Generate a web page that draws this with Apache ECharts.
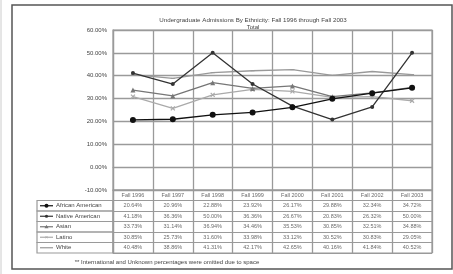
<!DOCTYPE html>
<html><head><meta charset="utf-8">
<script src="https://cdn.jsdelivr.net/npm/echarts@6/dist/echarts.min.js"></script>
<style>html,body{margin:0;padding:0;background:#fff}#c{width:453px;height:274px}</style>
</head><body><div id="c"></div>
<script>
const categories = ['Fall 1996','Fall 1997','Fall 1998','Fall 1999','Fall 2000','Fall 2001','Fall 2002','Fall 2003'];
const seriesNames = ['African American','Native American','Asian','Latino','White'];
const africanAmerican = [20.64, 20.96, 22.88, 23.92, 26.17, 29.88, 32.34, 34.72];
const nativeAmerican  = [41.18, 36.36, 50.00, 36.36, 26.67, 20.83, 26.32, 50.00];
const asian           = [33.73, 31.14, 36.94, 34.46, 35.53, 30.85, 32.51, 34.88];
const latino          = [30.85, 25.73, 31.60, 33.98, 33.12, 30.52, 30.83, 29.05];
const white           = [40.48, 38.86, 41.31, 42.17, 42.65, 40.16, 41.84, 40.52];
const yTicks = [-10, 0, 10, 20, 30, 40, 50, 60];
const titleText = 'Undergraduate Admissions By Ethnicity: Fall 1996 through Fall 2003';
const subTitleText = 'Total';
const footnote = '** International and Unknown percentages were omitted due to space';

const allSeries = [africanAmerican, nativeAmerican, asian, latino, white];
const styles = [
  {color:'#111', symbol:'circle', size:6},
  {color:'#333', symbol:'circle', size:4},
  {color:'#777', symbol:'triangle', size:5},
  {color:'#aaa', symbol:'path://M0,0L10,10M10,0L0,10', size:4},
  {color:'#999', symbol:'rect', size:[4,1]}
];
const FONT = 'Liberation Sans';
const TXT = '#444';
const gridColor = '#9a9a9a';

const chart = echarts.init(document.getElementById('c'), null, {renderer:'canvas'});

const cellData = [];
categories.forEach((c,i)=>cellData.push([i, 0, c]));
allSeries.forEach((arr,r)=>arr.forEach((v,i)=>cellData.push([i, r+1, v.toFixed(2)+'%'])));

const rowLabels = ['', ...seriesNames];
const TL = 37, TX = 113, T_TOP = 190, T_H = 63;
const rowH = T_H/6;

const graphics = [
  {type:'rect', shape:{x:12,y:5,width:440,height:264}, style:{fill:'none', stroke:'#555', lineWidth:1.5}},
  {type:'line', shape:{x1:1,y1:0,x2:1,y2:274}, style:{stroke:'#ccc', lineWidth:1}},
  {type:'text', style:{text:footnote, x:167, y:262, textAlign:'center', textVerticalAlign:'middle', font:'6px "'+FONT+'"', fill:TXT}}
];
for (let r=1;r<6;r++){
  const y = T_TOP + r*rowH;
  graphics.push({type:'rect', shape:{x:TL, y:y, width:TX-TL, height:rowH}, style:{fill:'none', stroke:gridColor, lineWidth:1.2}});
  graphics.push({type:'text', style:{text:seriesNames[r-1], x:56, y:y+rowH/2, textVerticalAlign:'middle', font:'6px "'+FONT+'"', fill:TXT}});
  const st = styles[r-1];
  const cy = y+rowH/2;
  graphics.push({type:'line', shape:{x1:40,y1:cy,x2:53,y2:cy}, style:{stroke:st.color, lineWidth:1.2}});
  if (st.symbol==='circle') graphics.push({type:'circle', shape:{cx:46.5,cy:cy,r:r===1?2:1.6}, style:{fill:st.color}});
  else if (st.symbol==='triangle') graphics.push({type:'polygon', shape:{points:[[46.5,cy-2],[48.5,cy+1.6],[44.5,cy+1.6]]}, style:{fill:st.color}});
  else if (r===4) graphics.push({type:'text', style:{text:'×', x:46.5, y:cy, textAlign:'center', textVerticalAlign:'middle', font:'6px sans-serif', fill:st.color}});
}

const lineSeries = allSeries.map((arr,i)=>({
  type:'line', name:seriesNames[i], data:arr, xAxisIndex:0, yAxisIndex:0,
  symbol:styles[i].symbol, symbolSize:styles[i].size, showSymbol:true,
  lineStyle:{color:styles[i].color, width:1.3},
  itemStyle:{color:styles[i].color, borderColor:styles[i].color, borderWidth: i===3?1.2:0},
  z: 10-i, animation:false
}));

chart.setOption({
  animation:false,
  backgroundColor:'#fff',
  title:{text:titleText, subtext:subTitleText, left:248, top:12, textAlign:'center', itemGap:1,
    textStyle:{fontFamily:FONT, fontSize:6.2, fontWeight:'normal', color:TXT},
    subtextStyle:{fontFamily:FONT, fontSize:6, color:TXT}},
  grid:[
    {left:113, right:21, top:30, height:160, show:true, borderColor:gridColor, borderWidth:1.2},
    {left:113, right:21, top:T_TOP, height:T_H, show:true, borderColor:gridColor, borderWidth:1.2}
  ],
  xAxis:[
    {type:'category', gridIndex:0, data:categories, boundaryGap:true,
     axisLine:{show:true, lineStyle:{color:gridColor, width:1.2}}, axisTick:{show:false}, axisLabel:{show:false, interval:0},
     splitLine:{show:true, interval:0, lineStyle:{color:gridColor, width:1.3}}},
    {type:'category', gridIndex:1, data:categories, boundaryGap:true, position:'top',
     axisLine:{show:true, lineStyle:{color:gridColor, width:1.2}}, axisTick:{show:false}, axisLabel:{show:false, interval:0},
     splitLine:{show:true, interval:0, lineStyle:{color:gridColor, width:1.3}}}
  ],
  yAxis:[
    {type:'value', gridIndex:0, min:-10, max:60, interval:10,
     axisLine:{show:true, lineStyle:{color:gridColor, width:1.2}}, axisTick:{show:false},
     axisLabel:{formatter:v=>v.toFixed(2)+'%', fontFamily:FONT, fontSize:6, color:TXT, margin:6},
     splitLine:{show:true, lineStyle:{color:gridColor, width:1.3}}},
    {type:'category', gridIndex:1, data:rowLabels, inverse:true, boundaryGap:true,
     axisLine:{show:true, lineStyle:{color:gridColor, width:1.2}}, axisTick:{show:false}, axisLabel:{show:false, interval:0},
     splitLine:{show:true, interval:0, lineStyle:{color:gridColor, width:1.2}}}
  ],
  series:[...lineSeries,
    {type:'scatter', xAxisIndex:1, yAxisIndex:1, symbolSize:0, data:cellData.map(d=>({value:[d[0], d[1]], txt:d[2]})),
     label:{show:true, position:'inside', formatter:p=>p.data.txt, fontFamily:FONT, fontSize:5.5, color:TXT}, silent:true}
  ],
  graphic:graphics
});
</script></body></html>
